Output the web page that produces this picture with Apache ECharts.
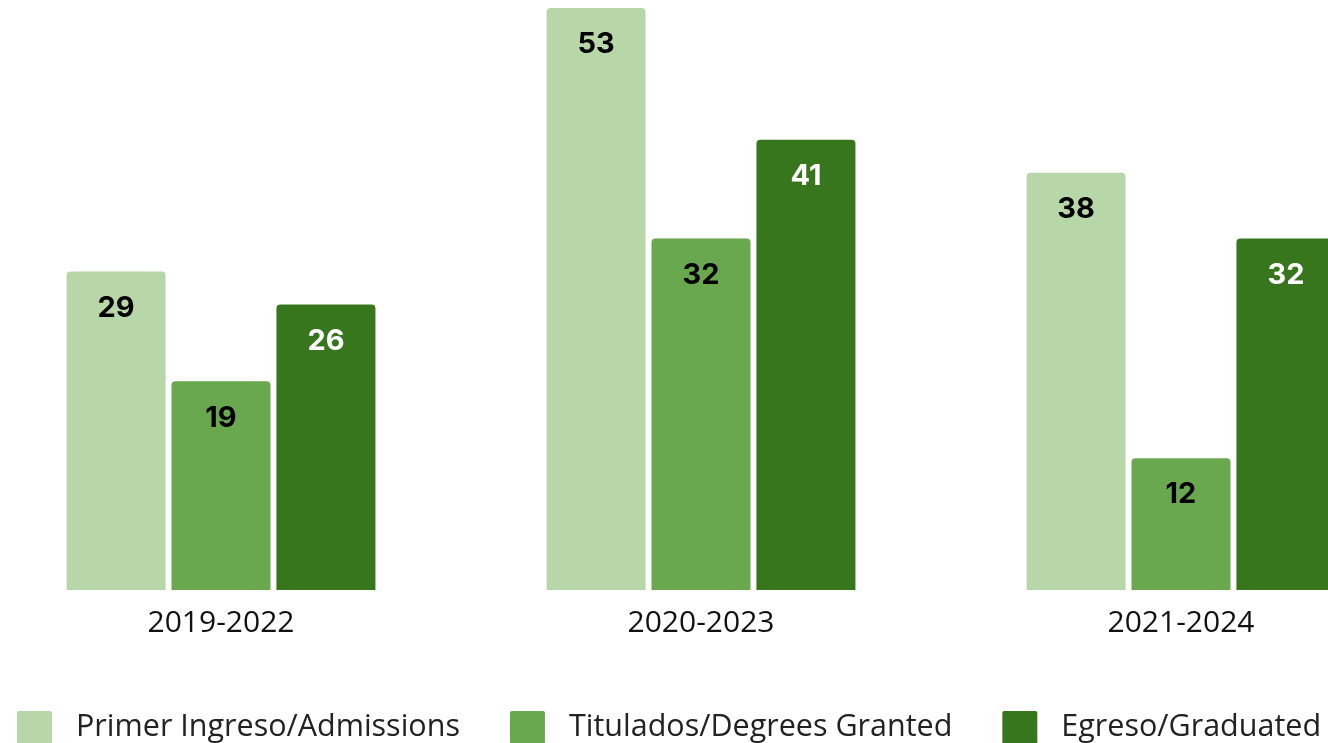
<!DOCTYPE html>
<html>
<head>
<meta charset="utf-8">
<script src="https://cdn.jsdelivr.net/npm/echarts@6/dist/echarts.min.js"></script>
<style>
html,body{margin:0;padding:0;background:#fff;}
#main{width:1328px;height:743px;}
</style>
</head>
<body>
<div id="main"></div>
<script>
const categories = ['2019-2022', '2020-2023', '2021-2024'];
const seriesNames = ['Primer Ingreso/Admissions', 'Titulados/Degrees Granted', 'Egreso/Graduated'];
const admissions = [29, 53, 38];
const degrees = [19, 32, 12];
const graduated = [26, 41, 32];
const colors = ['#b7d7a8', '#6aa84f', '#38761d'];
const labelColors = ['#000000', '#000000', '#ffffff'];

const chart = echarts.init(document.getElementById('main'));
const dataSets = [admissions, degrees, graduated];
const option = {
  animation: false,
  grid: { left: -19, width: 1440, top: 8, bottom: 153, containLabel: false, outerBoundsMode: 'none' },
  legend: {
    left: 12, bottom: -6,
    itemWidth: 35, itemHeight: 33, itemGap: 50,
    icon: 'path://M2,0 L33,0 Q35,0 35,2 L35,31 Q35,33 33,33 L2,33 Q0,33 0,31 L0,2 Q0,0 2,0 Z',
    textStyle: { fontFamily: 'Open Sans', fontSize: 30.5, color: '#222', padding: [0, 0, 0, 19] },
    data: seriesNames
  },
  xAxis: {
    type: 'category', data: categories,
    axisLine: { show: false }, axisTick: { show: false },
    axisLabel: { fontFamily: 'Open Sans', fontSize: 30, color: '#111', margin: 18 }
  },
  yAxis: { type: 'value', min: 0, max: 53, show: false, splitLine: { show: false } },
  series: seriesNames.map((n, i) => ({
    name: n, type: 'bar', data: dataSets[i],
    barWidth: 99, barGap: '6%',
    itemStyle: { color: colors[i], borderRadius: [4, 4, 0, 0] },
    label: {
      show: true, position: 'insideTop', distance: 22,
      fontFamily: 'Inter', fontWeight: 'bold', fontSize: 29, color: labelColors[i]
    }
  }))
};
chart.setOption(option);
</script>
</body>
</html>
